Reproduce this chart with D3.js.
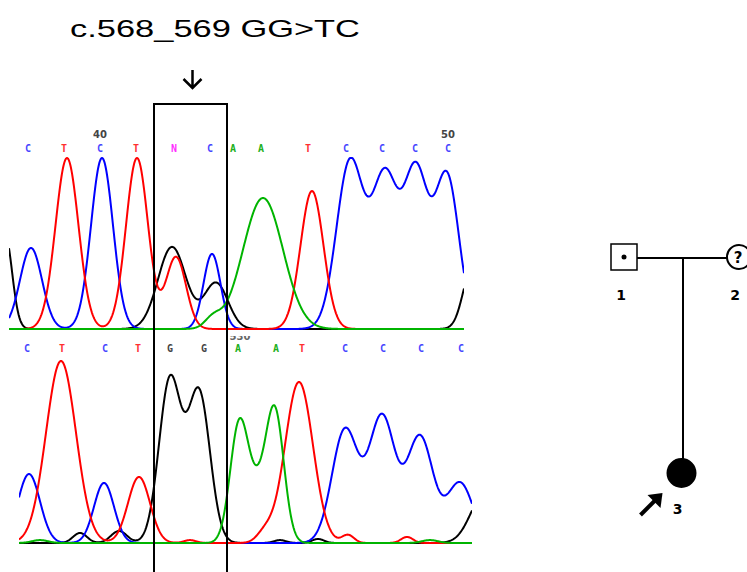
<!DOCTYPE html>
<html><head><meta charset="utf-8">
<script src="https://cdn.jsdelivr.net/npm/d3@7"></script>
<style>body{margin:0;background:#fff}svg{display:block}</style>
</head><body>
<svg id="chart" width="747" height="572"></svg>
<script>
// ---------- DATA ----------
const title = "c.568_569 GG>TC";
// base calls (scan position within each panel)
const upperBases = ["C","T","C","T","N","C","A","A","T","C","C","C","C"];
const upperBasePos = [19,55,91,127,165,201,224,252,299,337,373,406,439];
const lowerBases = ["C","T","C","T","G","G","A","A","T","C","C","C","C"];
const lowerBasePos = [8,43,86,119,151,185,219,257,283,326,364,402,442];
const upperTickLabels = ["40","50"];
const upperTickPos = [91,439];
const lowerTickLabels = ["530"];
const lowerTickPos = [221];
// peaks: [scan position, signal, width]
const upperC = [[22,474,11],[93,1000,11],[203,439,8.5],[341,977,13.5],[376,877,13],[407,895,12],[438,889,12]];
const upperT = [[58,1000,11.5],[128,1000,11],[167,421,10],[303,807,11.5]];
const upperG = [[-4,556,7],[163,480,14],[207,269,12],[463,351,9]];
const upperA = [[254,766,20],[204,58,8]];
const lowerC = [[10,379,11],[85,330,10],[326,621,13],[363,692,13],[401,582,13],[441,330,13]];
const lowerT = [[42,1000,15],[120,363,11],[171,16,6],[280,885,14],[246,55,8],[329,44,6],[388,33,6]];
const lowerG = [[61,55,7],[100,66,8],[151,896,11],[180,824,11],[261,16,6],[299,22,6],[466,275,14]];
const lowerA = [[21,16,8],[220,632,9],[238,247,10],[256,703,9],[411,16,8]];
// highlighted region (scan positions in upper panel)
const boxRange = [145,218];
// pedigree
const pedigree = [
  {id:"1", sex:"M", gen:0, slot:0, affected:false, carrier:true},
  {id:"2", sex:"F", gen:0, slot:2, affected:false, unknown:true},
  {id:"3", sex:"F", gen:1, slot:1, affected:true, proband:true}
];

// ---------- DRAW ----------
const svg = d3.select("#chart");
const baseColor = {C:"#4848ff", T:"#ff3030", A:"#20b020", G:"#444444", N:"#ff30ff"};
const traceColor = {C:"#0000ff", T:"#ff0000", A:"#00b400", G:"#000000"};

function signal(peaks, x){
  let s = 0;
  for (const [p,h,w] of peaks) s += h*Math.exp(-((x-p)*(x-p))/(2*w*w));
  return Math.min(s, 1000);
}

function panel(cfg){
  const x = d3.scaleLinear().domain([0, cfg.len]).range([cfg.x0, cfg.x0 + cfg.len]);
  const y = d3.scaleLinear().domain([0, 1000]).range([cfg.base, cfg.base - cfg.h]);
  const id = "clip" + cfg.name;
  svg.append("clipPath").attr("id", id).append("rect")
    .attr("x", x(0)).attr("y", cfg.clipTop).attr("width", x(cfg.len)-x(0)).attr("height", cfg.base - cfg.clipTop + 3);
  const g = svg.append("g").attr("clip-path", `url(#${id})`);
  const xs = d3.range(0, cfg.len + 0.01, 0.5);
  const line = d3.line().x(d => x(d[0])).y(d => y(d[1]));
  const order = ["G","C","T","A"];
  order.forEach(k => {
    const pk = cfg.traces[k];
    g.append("path").datum(xs.map(v => [v, signal(pk, v)]))
      .attr("d", line).attr("fill","none").attr("stroke", traceColor[k])
      .attr("stroke-width", 2).attr("stroke-linejoin","round");
  });
  // base labels
  g.selectAll("text.base").data(cfg.bases).enter().append("text")
    .attr("x", (d,i) => x(cfg.basePos[i])).attr("y", cfg.labelY)
    .attr("text-anchor","middle").attr("font-family","DejaVu Sans Mono, monospace")
    .attr("font-weight","bold").attr("font-size", 10).attr("fill", d => baseColor[d]).text(d => d);
  g.selectAll("text.tick").data(cfg.ticks).enter().append("text")
    .attr("x", (d,i) => x(cfg.tickPos[i])).attr("y", cfg.tickY)
    .attr("text-anchor","middle").attr("font-family","DejaVu Sans, sans-serif")
    .attr("font-weight","bold").attr("font-size", 10).attr("fill", cfg.tickColor).text(d => d);
  return x;
}

const xUp = panel({name:"up", x0:9, len:455, base:329, h:171, clipTop:120, labelY:152, tickY:138, tickColor:"#444",
  traces:{C:upperC, T:upperT, G:upperG, A:upperA}, bases:upperBases, basePos:upperBasePos,
  ticks:upperTickLabels, tickPos:upperTickPos});
panel({name:"lo", x0:19, len:453, base:543, h:182, clipTop:336, labelY:352, tickY:340, tickColor:"#666",
  traces:{C:lowerC, T:lowerT, G:lowerG, A:lowerA}, bases:lowerBases, basePos:lowerBasePos,
  ticks:lowerTickLabels, tickPos:lowerTickPos});

// highlight box
const bx0 = xUp(boxRange[0]), bx1 = xUp(boxRange[1]);
svg.append("path").attr("d", `M${bx0},572 V104 H${bx1} V572`)
  .attr("fill","none").attr("stroke","#000").attr("stroke-width",2);

// title
svg.append("text").attr("x", 70).attr("y", 37).attr("font-family","Liberation Sans, Arial, sans-serif")
  .attr("font-size", 24).attr("textLength", 290).attr("lengthAdjust","spacingAndGlyphs")
  .attr("fill","#000").text(title);
// arrow
const ax = (bx0 + bx1)/2 + 2;
svg.append("path").attr("d", `M${ax},70 V88 M${ax-9},79 L${ax},88 L${ax+9},79`)
  .attr("fill","none").attr("stroke","#000").attr("stroke-width",2.5);

// pedigree
const px = d3.scaleLinear().domain([0,2]).range([624, 739]);
const py = d3.scaleLinear().domain([0,1]).range([257, 473]);
const pg = svg.append("g");
const p1 = pedigree[0], p2 = pedigree[1], p3 = pedigree[2];
pg.append("line").attr("x1", px(p1.slot)+13).attr("x2", px(p2.slot)-12)
  .attr("y1", py(0)+1).attr("y2", py(0)+1).attr("stroke","#000").attr("stroke-width",2);
pg.append("line").attr("x1", 683).attr("x2", 683).attr("y1", py(0)+1).attr("y2", py(1)-14)
  .attr("stroke","#000").attr("stroke-width",2);
pedigree.forEach(p => {
  const cx = px(p.slot), cy = py(p.gen);
  if (p.sex === "M") {
    pg.append("rect").attr("x", cx-13).attr("y", cy-13).attr("width",26).attr("height",26)
      .attr("fill","#fff").attr("stroke","#000").attr("stroke-width",1.5);
    if (p.carrier) pg.append("circle").attr("cx",cx).attr("cy",cy).attr("r",2.5).attr("fill","#000");
  } else {
    const r = p.affected ? 14 : 12;
    pg.append("circle").attr("cx",cx).attr("cy",cy).attr("r",r)
      .attr("fill", p.affected ? "#000" : "#fff").attr("stroke","#000").attr("stroke-width",2);
    if (p.unknown) pg.append("text").attr("x",cx-1).attr("y",cy+6).attr("text-anchor","middle")
      .attr("font-family","DejaVu Sans, sans-serif").attr("font-weight","bold").attr("font-size",15).text("?");
  }
  const lx = p.proband ? cx-4 : cx - (p.sex==="M"? 3 : 4);
  const ly = p.proband ? cy+41 : cy+43;
  pg.append("text").attr("x", lx).attr("y", ly).attr("text-anchor","middle")
    .attr("font-family","DejaVu Sans, sans-serif").attr("font-weight","bold").attr("font-size",14)
    .attr("fill","#000").text(p.id);
  if (p.proband) {
    pg.append("line").attr("x1", cx-41).attr("y1", cy+42).attr("x2", cx-26).attr("y2", cy+27)
      .attr("stroke","#000").attr("stroke-width",4);
    pg.append("path").attr("d", `M${cx-19},${cy+20} L${cx-34},${cy+22} L${cx-21},${cy+35} Z`).attr("fill","#000");
  }
});
</script>
</body></html>
